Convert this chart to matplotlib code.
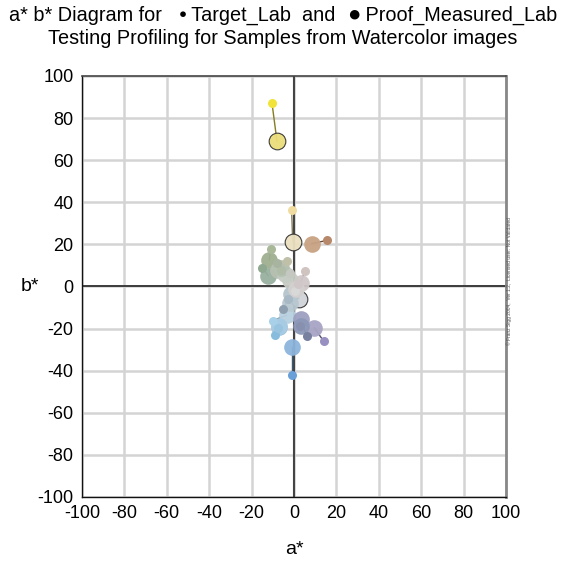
import matplotlib
matplotlib.use("Agg")
import matplotlib.pyplot as plt

plt.rcParams['font.family'] = ['Liberation Sans', 'DejaVu Sans']

# Target (small) points
target_a = [-10.4, -1.1, 15.7, -11.0, -15.0, -3.2, 5.2, -1.9, -5.0, -10.0, -8.8, 6.0, 14.0, -1.1, 3.0, -7.5, 0.5, -6.0, -3.0, 2.0, -8.0]
target_b = [87.4, 36.1, 21.9, 18.0, 9.0, 11.9, 7.4, 6.2, -10.5, -16.2, -23.0, -23.6, -26.0, -42.0, -19.0, -19.5, -2.0, 8.0, -6.0, 1.0, 11.0]
# Measured (large) points
meas_a = [-8.0, -0.6, 8.4, -11.6, -12.2, -7.4, 3.1, -1.9, -1.4, -3.5, -7.1, 3.2, 9.6, -1.1, 3.4, -7.0, 2.5, -4.0, -2.0, 1.0, -6.0]
meas_b = [68.9, 21.3, 20.4, 12.8, 5.2, 7.6, 1.6, 3.1, -3.4, -13.7, -19.3, -15.4, -19.6, -28.8, -18.8, -19.0, -6.0, 6.0, -8.0, -1.0, 9.0]
target_colors = ['#f2e33a', '#f0dca0', '#b8886a', '#a8b898', '#8fa890', '#c0c0a8', '#d0c4c0', '#c4c8c0',
                 '#8ea0b0', '#a8d0e8', '#88bcdc', '#7880a0', '#9890c0', '#6aa0d8', '#8890b0', '#98c4e0', '#d8d8d8',
                 '#b0bca8', '#a8b8c4', '#d0c8c8', '#a8b4a0']
meas_colors = ['#eadd7a', '#ebe0c0', '#c9a283', '#9fae90', '#98b0a0', '#b8c0b0', '#d0c8c8', '#c8ccc4',
               '#b4c4cc', '#b8d0e0', '#98c0dc', '#9ca0c0', '#a8a4c4', '#8cb4dc', '#8c98b8', '#a8cce4', '#d0d4d8',
               '#c4ccc4', '#b8c8d0', '#d4d0d0', '#b4c0b0']
meas_edge = [True, True, False, False, False, False, False, False,
             False, False, False, False, False, False, False, False, True,
             False, False, False, False]

ticks = [-100, -80, -60, -40, -20, 0, 20, 40, 60, 80, 100]

fig = plt.figure(figsize=(5.65, 5.62), dpi=100)
ax = fig.add_axes([0.1451, 0.1157, 0.7504, 0.7491])
ax.set_xlim(-100, 100)
ax.set_ylim(-100, 100)
ax.set_xticks(ticks)
ax.set_yticks(ticks)
ax.set_xticklabels([str(t) for t in ticks])
ax.set_yticklabels([str(t) for t in ticks])
ax.tick_params(length=0, labelsize=13, pad=6)
ax.grid(True, color='#d4d4d4', linewidth=1.8)
ax.set_axisbelow(True)
ax.axhline(0, color='#222222', linewidth=1.2, zorder=1)
ax.axvline(0, color='#444444', linewidth=1.5, zorder=1)

for s in ['left', 'bottom']:
    ax.spines[s].set_color('#111111')
    ax.spines[s].set_linewidth(1.0)
ax.spines['top'].set_color('#444444')
ax.spines['top'].set_linewidth(1.2)
ax.spines['right'].set_color('#888888')
ax.spines['right'].set_linewidth(2.0)

def darker(c, f=0.55):
    r, g, b = matplotlib.colors.to_rgb(c)
    return (r * f, g * f, b * f)

for i in range(len(target_a)):
    ax.plot([target_a[i], meas_a[i]], [target_b[i], meas_b[i]], color=darker(target_colors[i]),
            linewidth=1.0, zorder=2)
for i in range(len(meas_a)):
    z = 2.5 if (meas_edge[i] and abs(meas_b[i]) < 15) else 3
    ax.plot(meas_a[i], meas_b[i], 'o', markersize=12, markerfacecolor=meas_colors[i],
            markeredgecolor='#333333' if meas_edge[i] else meas_colors[i],
            markeredgewidth=0.8 if meas_edge[i] else 0, alpha=0.95, zorder=z)
for i in range(len(target_a)):
    ax.plot(target_a[i], target_b[i], 'o', markersize=6.5, markerfacecolor=target_colors[i],
            markeredgewidth=0, zorder=4)

ax.set_xlabel('a*', fontsize=14)
ax.xaxis.set_label_coords(0.5, -0.105)
ax.set_ylabel('b*', fontsize=14, rotation=0, va='center', ha='center')
ax.yaxis.set_label_coords(-0.123, 0.5)

# Title line 1 built from pieces with a shared baseline
fs = 14.3
base_y = 0.963
pieces = [('a* b* Diagram for   ', fs, 0.0), ('\u25cf', 9.5, 0.005), (' Target_Lab  and  ', fs, 0.0),
          ('\u25cf', 16, 0.0), (' Proof_Measured_Lab', fs, 0.0)]
renderer = fig.canvas.get_renderer()
texts = []
for s, size, dy in pieces:
    t = fig.text(0, base_y + dy, s, fontsize=size, ha='left', va='baseline')
    w = t.get_window_extent(renderer).width / fig.bbox.width
    texts.append((t, w))
off = 9.0 / 565
for t, w in texts:
    t.set_x(off)
    off += w
fig.text(0.5, 0.922, 'Testing Profiling for Samples from Watercolor images', fontsize=fs, ha='center', va='baseline')

fig.text(0.901, 0.5, '\u00a9 Franz Sigg 2004,  Ver 1.2,  Licensed user: Not Validated', fontsize=3.5,
         rotation=90, ha='center', va='center', color='#555555')

fig.savefig('out.png', dpi=100)
